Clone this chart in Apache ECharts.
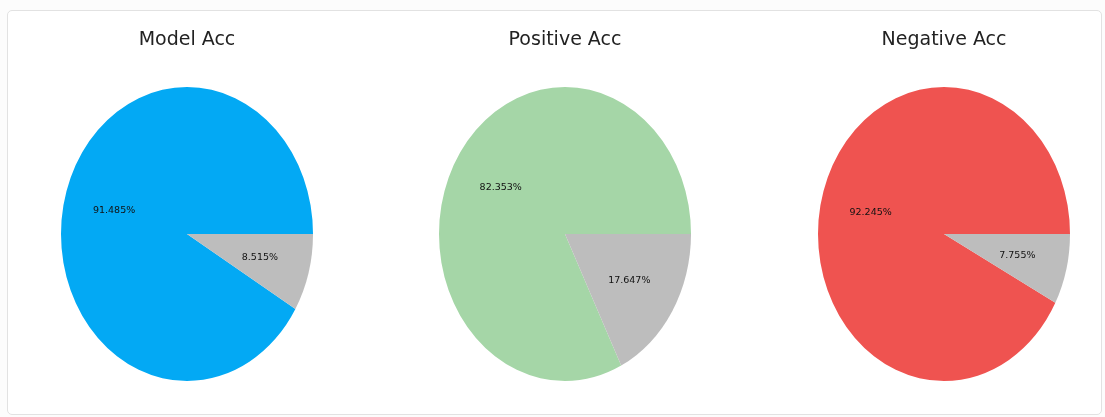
<!DOCTYPE html>
<html>
<head>
<meta charset="utf-8">
<script src="https://cdn.jsdelivr.net/npm/echarts@6/dist/echarts.min.js"></script>
<style>
  html, body { margin: 0; padding: 0; background: #fcfcfc; }
  #frame { position: absolute; left: 7px; top: 10px; width: 1093px; height: 403px;
           border: 1px solid #e2e2e2; border-radius: 5px; background: #fff; }
  #chart { position: absolute; left: 0; top: 0; width: 1105px; height: 417px; }
</style>
</head>
<body>
<div id="frame"></div>
<div id="chart"></div>
<script>
// Accuracy breakdowns (percent): correct vs. incorrect
const titles = ['Model Acc', 'Positive Acc', 'Negative Acc'];
const modelAcc = [91.485, 8.515];
const positiveAcc = [82.353, 17.647];
const negativeAcc = [92.245, 7.755];
const sliceColors = [['#03A9F4', '#BDBDBD'], ['#A5D6A7', '#BDBDBD'], ['#EF5350', '#BDBDBD']];

const groups = [modelAcc, positiveAcc, negativeAcc];
const centersX = [187, 565, 944];
const centerY = 234;
const rx = 126, ry = 147;

const chart = echarts.init(document.getElementById('chart'), null, { renderer: 'canvas' });

// Elliptical pie: sectors start at 3 o'clock and run counter-clockwise
function makeSeries(values, k) {
  const total = values.reduce((a, b) => a + b, 0);
  return {
    type: 'custom',
    coordinateSystem: 'none',
    data: values.map(v => [v]),
    renderItem: function (params, api) {
      const i = params.dataIndex;
      let cum = 0;
      for (let j = 0; j < i; j++) cum += values[j];
      const v = api.value(0);
      const a0 = cum / total * Math.PI * 2;
      const a1 = (cum + v) / total * Math.PI * 2;
      const mid = (a0 + a1) / 2;
      const cx = centersX[k];
      return {
        type: 'group',
        children: [{
          type: 'sector',
          shape: { cx: cx, cy: centerY, r0: 0, r: rx, startAngle: -a0, endAngle: -a1, clockwise: false },
          scaleY: ry / rx,
          originX: cx,
          originY: centerY,
          style: { fill: sliceColors[k][i], stroke: null }
        }, {
          type: 'text',
          x: cx + 0.6 * rx * Math.cos(mid),
          y: centerY - 0.6 * ry * Math.sin(mid),
          style: {
            text: v.toFixed(3) + '%',
            fill: '#111',
            font: '9.5px "DejaVu Sans"',
            align: 'center',
            verticalAlign: 'middle'
          }
        }]
      };
    }
  };
}

chart.setOption({
  animation: false,
  graphic: titles.map((t, k) => ({
    type: 'text',
    x: centersX[k],
    y: 40,
    style: {
      text: t,
      font: '19px "DejaVu Sans"',
      fill: '#222',
      align: 'center',
      verticalAlign: 'middle'
    }
  })),
  series: groups.map((g, k) => makeSeries(g, k))
});
</script>
</body>
</html>
